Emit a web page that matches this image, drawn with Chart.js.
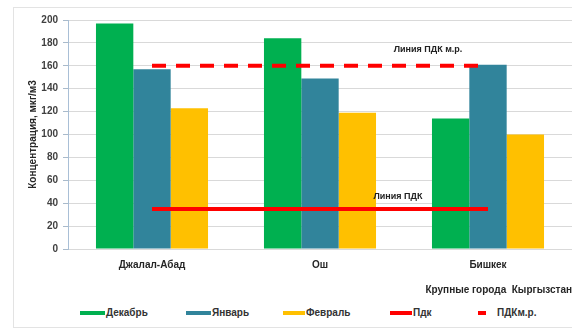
<!DOCTYPE html>
<html>
<head>
<meta charset="utf-8">
<script src="https://cdn.jsdelivr.net/npm/chart.js@4.4.1/dist/chart.umd.min.js"></script>
<style>
    body { margin: 0; background: #fff; font-family: "Liberation Sans", Arial, sans-serif; }
    #wrap { position: relative; width: 572px; height: 329px; overflow: hidden; }
    #frame { position: absolute; left: 13px; top: 7px; width: 600px; height: 319px; border: 1px solid #e3e3e3; }
    #chart-box { position: absolute; left: 0; top: 0; width: 572px; height: 300px; }
    .lg { position: absolute; top: 306px; font-weight: bold; font-size: 10px; color: #333; line-height: 14px; white-space: nowrap; }
    .sw { position: absolute; top: 311px; height: 4px; }
</style>
</head>
<body>
<div id="wrap">
    <div id="frame"></div>
    <div id="chart-box"><canvas id="chart" width="572" height="300"></canvas></div>
    <div id="legend"></div>
</div>
<script>
const cities = ['Джалал-Абад', 'Ош', 'Бишкек'];
const december = [197, 184, 114];
const january = [157, 149, 161];
const february = [123, 119, 100];
const pdk = [35, 35, 35];
const pdkMr = [160, 160, 160];
const yTicks = [0, 20, 40, 60, 80, 100, 120, 140, 160, 180, 200];

const green = '#00b050';
const blue = '#31849b';
const yellow = '#ffc000';
const red = '#ff0000';

// legend drawn as html under the canvas
const legendItems = [
    { text: 'Декабрь', color: green, sx: 80, sw: 25, tx: 106 },
    { text: 'Январь', color: blue, sx: 186, sw: 25, tx: 212 },
    { text: 'Февраль', color: yellow, sx: 283, sw: 22, tx: 306 },
    { text: 'Пдк', color: red, sx: 390, sw: 22, tx: 413 },
    { text: 'ПДКм.р.', color: red, sx: 478, sw: 8, tx: 497 }
];
const legend = document.getElementById('legend');
legendItems.forEach(item => {
    const sw = document.createElement('div');
    sw.className = 'sw';
    sw.style.left = item.sx + 'px';
    sw.style.width = item.sw + 'px';
    sw.style.background = item.color;
    legend.appendChild(sw);
    const t = document.createElement('div');
    t.className = 'lg';
    t.style.left = item.tx + 'px';
    t.textContent = item.text;
    legend.appendChild(t);
});

// text notes next to the two limit lines
const lineNotes = {
    id: 'lineNotes',
    afterDatasetsDraw(chart) {
        const ctx = chart.ctx;
        const xs = chart.scales.x;
        const ys = chart.scales.y;
        ctx.save();
        ctx.font = 'bold 9px "Liberation Sans", Arial, sans-serif';
        ctx.fillStyle = '#222';
        ctx.textAlign = 'center';
        ctx.textBaseline = 'middle';
        ctx.fillText('Линия ПДК м.р.', xs.getPixelForValue(1.643), ys.getPixelForValue(174));
        ctx.fillText('Линия ПДК', xs.getPixelForValue(1.464), ys.getPixelForValue(46));
        ctx.restore();
    }
};

const ctx = document.getElementById('chart').getContext('2d');
const chart = new Chart(ctx, {
    data: {
        labels: cities,
        datasets: [
            { type: 'line', label: 'Пдк', data: pdk, borderColor: red, borderWidth: 4, pointRadius: 0, order: 0 },
            { type: 'line', label: 'ПДКм.р.', data: pdkMr, borderColor: red, borderWidth: 4, borderDash: [14, 10], pointRadius: 0, order: 0 },
            { type: 'bar', label: 'Декабрь', data: december, backgroundColor: green, order: 1 },
            { type: 'bar', label: 'Январь', data: january, backgroundColor: blue, order: 1 },
            { type: 'bar', label: 'Февраль', data: february, backgroundColor: yellow, order: 1 }
        ]
    },
    options: {
        responsive: false,
        animation: false,
        layout: { padding: { left: 13, top: 20, right: 0, bottom: 0 } },
        datasets: {
            bar: { categoryPercentage: 0.667, barPercentage: 1.0 }
        },
        plugins: {
            legend: { display: false },
            tooltip: { enabled: false }
        },
        scales: {
            x: {
                offset: true,
                grid: { display: false, drawTicks: false },
                border: { display: false },
                ticks: {
                    padding: 10,
                    color: '#262626',
                    font: { family: '"Liberation Sans", Arial, sans-serif', size: 10, weight: 'bold' }
                },
                title: {
                    display: true,
                    text: 'Крупные города  Кыргызстан',
                    align: 'end',
                    color: '#262626',
                    padding: { top: 0, bottom: 4 },
                    font: { family: '"Liberation Sans", Arial, sans-serif', size: 10, weight: 'bold' }
                },
                afterFit(scale) { scale.height = 51; }
            },
            y: {
                min: 0,
                max: 200,
                afterBuildTicks(scale) { scale.ticks = yTicks.map(v => ({ value: v })); },
                grid: { color: '#d9d9d9', tickColor: '#a9bacb', tickLength: 5 },
                border: { color: '#a9bfd6', width: 1 },
                ticks: {
                    padding: 5,
                    color: '#404040',
                    font: { family: '"Liberation Sans", Arial, sans-serif', size: 10, weight: 'bold' }
                },
                title: {
                    display: true,
                    text: 'Концентрация, мкг/м3',
                    color: '#262626',
                    padding: { top: 14, bottom: 0 },
                    font: { family: '"Liberation Sans", Arial, sans-serif', size: 10, weight: 'bold' }
                },
                afterFit(scale) { scale.width = 55; }
            }
        }
    },
    plugins: [lineNotes]
});
</script>
</body>
</html>
